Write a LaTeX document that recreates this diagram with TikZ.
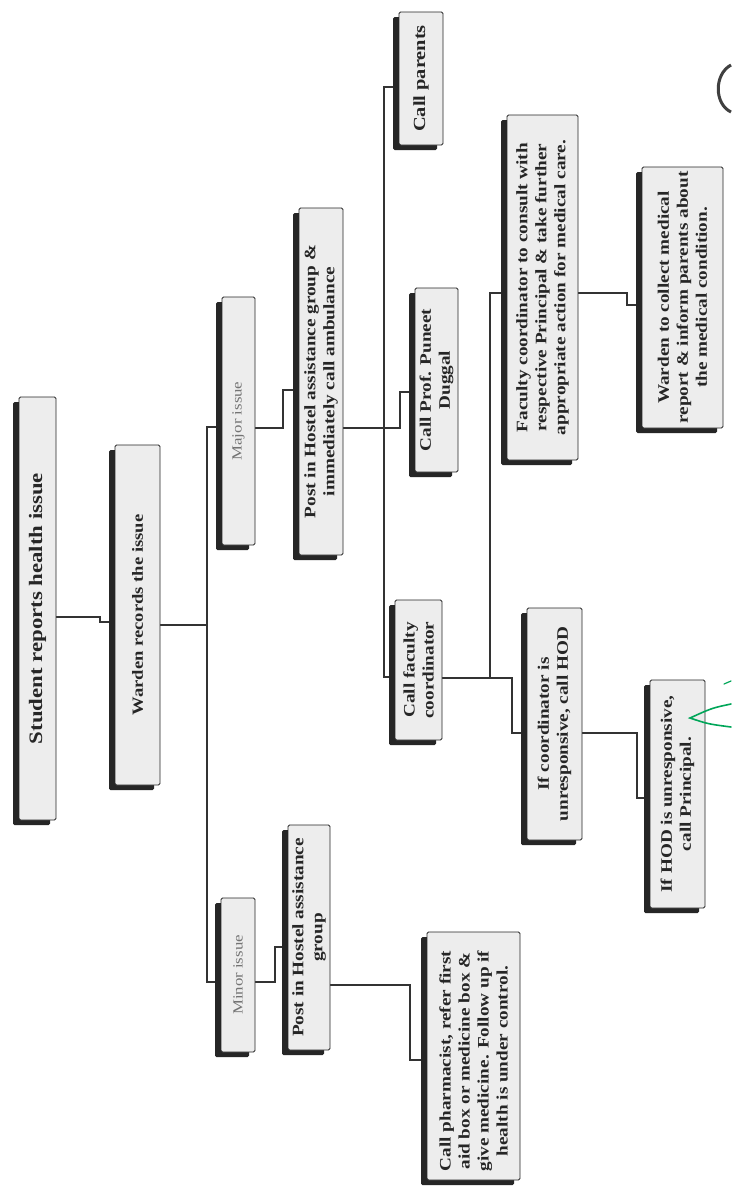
\documentclass[tikz,border=0pt]{standalone}
\usepackage{fontspec}
\setmainfont{Liberation Serif}[FakeStretch=1.2]
\usetikzlibrary{shadows}
\pgfdeclarelayer{bg}
\pgfdeclarelayer{wires}
\pgfsetlayers{bg,wires,main}
\begin{document}
\begin{tikzpicture}[x=1pt,y=-1pt,
  box/.style={draw=black!85, line width=0.8pt, fill=gray!14, rounded corners=1.5pt, inner sep=0pt,
    drop shadow={shadow xshift=-6pt, shadow yshift=-5pt, fill=black!85, opacity=1}},
  lbl/.style={rotate=90, align=center, inner sep=0pt, font=\fontsize{16}{19}\selectfont\bfseries, text=black!85},
  faint/.style={rotate=90, align=center, inner sep=0pt, font=\fontsize{14}{17}\selectfont, text=black!55},
  wire/.style={draw=black!80, line width=1.1pt}]
\begin{pgfonlayer}{bg}
\fill[white] (0,0) rectangle (731,1191);
\end{pgfonlayer}
\useasboundingbox (0,0) rectangle (731,1191);

% boxes
\node[box, minimum width=37pt, minimum height=423pt] (n1) at (37.5,608.5) {};
\node[box, minimum width=45pt, minimum height=340pt] (n2) at (137.5,615) {};
\node[box, minimum width=33pt, minimum height=248pt] (n3) at (238.5,421) {};
\node[box, minimum width=34pt, minimum height=154pt] (n4) at (238,975) {};
\node[box, minimum width=44pt, minimum height=347pt] (n5) at (321,381.5) {};
\node[box, minimum width=44pt, minimum height=133pt] (n6) at (421,78.5) {};
\node[box, minimum width=43pt, minimum height=184pt] (n7) at (436.5,380) {};
\node[box, minimum width=47pt, minimum height=140pt] (n8) at (418.5,670) {};
\node[box, minimum width=71pt, minimum height=345pt] (n9) at (542.5,287.5) {};
\node[box, minimum width=81pt, minimum height=261pt] (n10) at (682.5,297.5) {};
\node[box, minimum width=55pt, minimum height=232pt] (n11) at (554.5,724) {};
\node[box, minimum width=55pt, minimum height=228pt] (n12) at (677.5,794) {};
\node[box, minimum width=42pt, minimum height=225pt] (n13) at (309,937.5) {};
\node[box, minimum width=93pt, minimum height=248pt] (n14) at (473.5,1056) {};

% labels
\node[lbl, font=\fontsize{19}{22}\selectfont\bfseries] (t1) at (n1) {Student reports health issue};
\node[lbl, font=\fontsize{15.5}{19}\selectfont\bfseries] (t2) at (n2) {Warden records the issue};
\node[faint] (t3) at (n3) {Major issue};
\node[faint] (t4) at (n4) {Minor issue};
\node[lbl] (t5) at (n5) {Post in Hostel assistance group \&\\immediately call ambulance};
\node[lbl, font=\fontsize{17}{20}\selectfont\bfseries] (t6) at (n6) {Call parents};
\node[lbl] (t7) at (n7) {Call Prof. Puneet\\Duggal};
\node[lbl] (t8) at (n8) {Call faculty\\coordinator};
\node[lbl] (t9) at (n9) {Faculty coordinator to consult with\\respective Principal \& take further\\appropriate action for medical care.};
\node[lbl] (t10) at (n10) {Warden to collect medical\\report \& inform parents about\\the medical condition.};
\node[lbl] (t11) at (n11) {If coordinator is\\unresponsive, call HOD};
\node[lbl] (t12) at (n12) {If HOD is unresponsive,\\call Principal.};
\node[lbl] (t13) at (n13) {Post in Hostel assistance\\group};
\node[lbl, xshift=-5pt] (t14) at (n14) {Call pharmacist, refer first\\aid box or medicine box \&\\give medicine. Follow up if\\health is under control.};

% connectors
\begin{pgfonlayer}{wires}
\draw[wire] (n1.east |- 0,617) -- (100,617) -- (100,622) -- (n2.west |- 0,622);
\draw[wire] (n2.east |- 0,625) -- (207,625);
\draw[wire] (n3.west |- 0,427) -- (207,427) -- (207,982) -- (n4.west |- 0,982);
\draw[wire] (n3.east |- 0,428) -- (283,428) -- (283,390) -- (n5.west |- 0,390);
\draw[wire] (n5.east |- 0,428) -- (384,428);
\draw[wire] (n6.west |- 0,87) -- (384,87) -- (384,677) -- (n8.west |- 0,677);
\draw[wire] (384,428) -- (400,428) -- (400,392) -- (n7.west |- 0,392);
\draw[wire] (n8.east |- 0,678) -- (512,678) -- (512,733) -- (n11.west |- 0,733);
\draw[wire] (490,678) -- (490,293) -- (n9.west |- 0,293);
\draw[wire] (n9.east |- 0,293) -- (627,293) -- (627,305) -- (n10.west |- 0,305);
\draw[wire] (n11.east |- 0,733) -- (637,733) -- (637,798) -- (n12.west |- 0,798);
\draw[wire] (n4.east |- 0,982) -- (275,982) -- (275,947) -- (n13.west |- 0,947);
\draw[wire] (n13.east |- 0,985) -- (410,985) -- (410,1060) -- (n14.west |- 0,1060);
\end{pgfonlayer}

% marks at the right edge
\draw[line width=1.6pt, teal!70!green, line cap=round] (731,704) .. controls (712,708) .. (690,718) .. controls (708,724) .. (731,727);
\draw[line width=1.2pt, teal!70!green, line cap=round] (724,684) -- (731,681);
\draw[line width=3pt, black!75] (731,65) .. controls (714,74) and (714,104) .. (731,112);
\end{tikzpicture}
\end{document}
